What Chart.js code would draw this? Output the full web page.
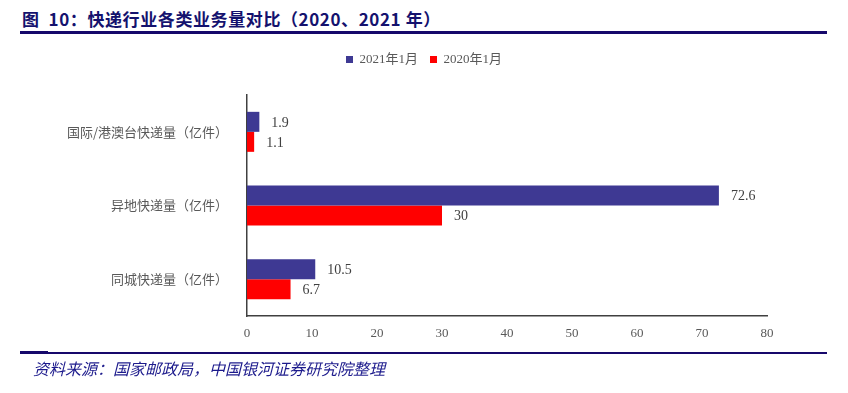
<!DOCTYPE html>
<html lang="zh-CN">
<head>
<meta charset="utf-8">
<script src="https://cdn.jsdelivr.net/npm/chart.js@4.4.1/dist/chart.umd.min.js"></script>
<style>
  body { margin: 0; background: #fff; }
  #wrap { position: relative; width: 848px; height: 393px; overflow: hidden; background: #fff; }
  #chart { position: absolute; left: 0; top: 0; }
  .title {
    position: absolute; left: 22px; top: 6px; line-height: 20px; letter-spacing: 0.6px;
    font: bold 17px 'Noto Sans CJK SC', sans-serif; color: #14126e; white-space: nowrap;
  }
  .rule { position: absolute; background: #16086b; }
  .source {
    position: absolute; left: 33px; top: 356px; line-height: 20px;
    font: italic 16px 'Noto Sans CJK SC', sans-serif; color: #1c1a8c; white-space: nowrap;
  }
</style>
</head>
<body>
<div id="wrap">
  <div class="title">图&nbsp;&nbsp;10：快递行业各类业务量对比（2020、2021 年）</div>
  <div class="rule" style="left:20px; top:31px; width:807px; height:3px;"></div>
  <canvas id="chart" width="848" height="393"></canvas>
  <div class="rule" style="left:20px; top:351px; width:28px; height:3px;"></div>
  <div class="rule" style="left:20px; top:352px; width:807px; height:2px;"></div>
  <div class="source">资料来源：国家邮政局，中国银河证券研究院整理</div>
</div>
<script>
const categories = ['国际/港澳台快递量（亿件）', '异地快递量（亿件）', '同城快递量（亿件）'];
const seriesNames = ['2021年1月', '2020年1月'];
const jan2021 = [1.9, 72.6, 10.5];
const jan2020 = [1.1, 30, 6.7];
const xTicks = [0, 10, 20, 30, 40, 50, 60, 70, 80];

const serif = "'Liberation Serif', 'Noto Sans CJK SC', serif";
const gray = '#595959';

// draws the value just right of each bar end
const valueLabels = {
  id: 'valueLabels',
  afterDatasetsDraw(chart) {
    const ctx = chart.ctx;
    ctx.save();
    ctx.font = `14px ${serif}`;
    ctx.fillStyle = '#404040';
    ctx.textAlign = 'left';
    ctx.textBaseline = 'middle';
    chart.data.datasets.forEach((ds, i) => {
      chart.getDatasetMeta(i).data.forEach((bar, j) => {
        ctx.fillText(String(ds.data[j]), bar.x + 12, bar.y + 1);
      });
    });
    ctx.restore();
  },
};

// long category label runs past the left padding; widen the y label clip
const unclipY = {
  id: 'unclipY',
  afterLayout(chart) {
    chart.scales.y.left = 0;
  },
};

new Chart(document.getElementById('chart'), {
  type: 'bar',
  data: {
    labels: categories,
    datasets: [
      { label: seriesNames[0], data: jan2021, backgroundColor: '#3e3993' },
      { label: seriesNames[1], data: jan2020, backgroundColor: '#ff0000' },
    ],
  },
  options: {
    indexAxis: 'y',
    responsive: false,
    devicePixelRatio: 1,
    animation: false,
    events: [],
    categoryPercentage: 0.543,
    barPercentage: 1,
    // left padding = right padding so the legend centres on the page
    layout: { padding: { top: 41, left: 81, right: 81, bottom: 47 } },
    plugins: {
      legend: {
        position: 'top',
        weight: 3000,
        labels: {
          boxWidth: 7,
          boxHeight: 7,
          padding: 12,
          color: gray,
          font: { size: 13, family: serif },
        },
      },
      // empty title only keeps a gap between legend and plot
      title: { display: true, text: '', font: { size: 10 }, padding: { top: 0, bottom: 7 } },
      tooltip: { enabled: false },
    },
    scales: {
      x: {
        min: 0,
        max: 80,
        afterFit(scale) { scale.height = 30; },
        afterBuildTicks(scale) { scale.ticks = xTicks.map((v) => ({ value: v })); },
        grid: { display: false, drawTicks: false },
        border: { display: true, color: '#404040', width: 1.5 },
        ticks: { padding: 10, color: gray, font: { size: 13, family: serif } },
      },
      y: {
        afterFit(scale) { scale.width = 166; },
        grid: { display: false, drawTicks: false },
        border: { display: true, color: '#404040', width: 1.5 },
        ticks: { padding: 19, color: gray, font: { size: 13, family: "'Noto Sans CJK SC', sans-serif" } },
      },
    },
  },
  plugins: [valueLabels, unclipY],
});
</script>
</body>
</html>
